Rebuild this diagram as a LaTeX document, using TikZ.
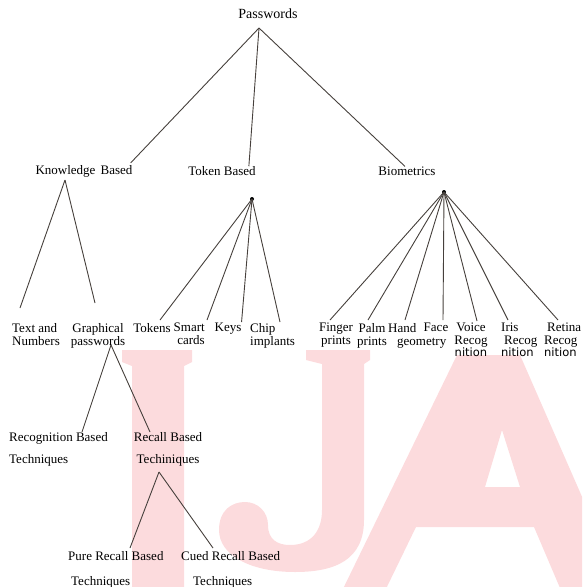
\documentclass[tikz,border=0pt]{standalone}
\usepackage{fontspec}
\setmainfont{Liberation Serif}
\newfontfamily\nitionfont{DejaVu Sans}
\usepackage{tikz}
\definecolor{ijaPink}{RGB}{252,219,221}
\definecolor{branchGray}{RGB}{70,64,60}
\newcommand{\nitionword}{{\nitionfont\fontsize{11.5}{12}\selectfont nition}}

\begin{document}
\begin{tikzpicture}[x=1pt, y=1pt,
    lbl/.style={inner sep=0pt, font=\fontsize{13}{13}\selectfont},
    branch/.style={draw=branchGray, line width=0.9pt},
    hubdot/.style={circle, fill=black, inner sep=0pt, minimum size=4pt}]
  \useasboundingbox (0,0) rectangle (582,-587);
  % watermark letters
  \begin{scope}
    \clip (0,0) rectangle (582,-587);
    \fill[ijaPink] (122,-350) -- (192,-350) -- (192,-362) -- (184,-366) -- (184,-590)
      -- (132,-590) -- (132,-366) -- (122,-362) -- cycle;
    \fill[ijaPink] (306,-350) -- (370,-350) -- (370,-360) -- (364,-364) -- (364,-520)
      .. controls (364,-560) and (335,-572) .. (295,-572)
      .. controls (250,-572) and (219,-555) .. (219,-530)
      .. controls (219,-510) and (232,-502) .. (245,-502)
      .. controls (258,-502) and (268,-512) .. (268,-525)
      .. controls (268,-540) and (278,-545) .. (290,-545)
      .. controls (312,-545) and (322,-530) .. (322,-510)
      -- (322,-364) -- (306,-360) -- cycle;
    \fill[ijaPink, even odd rule] (457,-355) -- (520,-355) -- (625,-595) -- (563,-595)
      -- (534,-527) -- (416,-527) -- (383,-595) -- (340,-595) -- cycle
      (502,-430) -- (520,-487) -- (485,-487) -- cycle;
  \end{scope}

  \node[lbl, font=\fontsize{14}{14}\selectfont] (pw) at (268,-14) {Passwords};
  \coordinate (pwhub) at (259,-28);

  \node[lbl] (kb) at (84,-171) {Knowledge\hspace{2pt} Based};
  \node[lbl] (tb) at (222,-171) {Token Based};
  \node[lbl] (bio) at (407,-171) {Biometrics};
  \coordinate (kbhub) at (65,-180);
  \node[hubdot] (tbhub) at (252,-199) {};
  \node[hubdot] (biohub) at (444,-192) {};

  \node[lbl, anchor=north west, align=left] (tn) at (12,-323) {Text and\\Numbers};
  \node[lbl, anchor=north, align=center] (gp) at (98,-323) {Graphical\\passwords};
  \node[lbl, anchor=north] (tok) at (152,-323) {Tokens};
  \node[lbl, anchor=north east, align=right] (sc) at (205,-323) {Smart\\cards};
  \node[lbl, anchor=north] (keys) at (228,-323) {Keys};
  \node[lbl, anchor=north west, align=left] (chip) at (250,-323) {Chip\\implants};
  \node[lbl, anchor=north, align=center] (fp) at (336,-323) {Finger\\prints};
  \node[lbl, anchor=north, align=center] (pp) at (372,-323) {Palm\\prints};
  \node[lbl, anchor=north west, align=left] (hg) at (388,-323) {Hand\\\hspace*{9pt}geometry};
  \node[lbl, anchor=north] (face) at (436,-323) {Face};
  \node[lbl, anchor=north, align=center] (voice) at (471,-323) {Voice\\Recog\\[-1pt]\nitionword};
  \node[lbl, anchor=north west, align=left] (iris) at (501,-323) {Iris\\\hspace*{3pt}Recog\\[-1pt]\nitionword};
  \node[lbl, anchor=north west, align=left] (retina) at (544,-323) {\hspace*{3pt}Retina\\Recog\\[-1pt]\nitionword};

  \coordinate (gphub) at (111,-345);
  \node[lbl, anchor=north west, align=left] (rb) at (9,-432) {Recognition Based\\[9pt]Techniques};
  \node[lbl, anchor=north, align=center] (rcb) at (168,-432) {Recall Based\\[9pt]Techiniques};
  \coordinate (rcbhub) at (159,-472);
  \node[lbl, anchor=north west, align=left] (prb) at (68,-551) {Pure Recall Based\\[12pt]\hspace*{3pt}Techniques};
  \node[lbl, anchor=north west, align=left] (crb) at (181,-551) {Cued Recall Based\\[12pt]\hspace*{12pt}Techniques};

  % branches
  \draw[branch] (pwhub) -- ([shift={(-2,2)}]kb.north east);
  \draw[branch] (pwhub) -- ([xshift=-7pt]tb.north east);
  \draw[branch] (pwhub) -- ([xshift=-2pt]bio.north);

  \draw[branch] (kbhub) -- ([shift={(8,15)}]tn.north west);
  \draw[branch] (kbhub) -- ([shift={(-3,20)}]gp.north);

  \draw[branch] (tbhub.center) -- ([shift={(8,3)}]tok.north);
  \draw[branch] (tbhub.center) -- ([shift={(2,3)}]sc.north east);
  \draw[branch] (tbhub.center) -- ([shift={(0,1)}]keys.north east);
  \draw[branch] (tbhub.center) -- ([shift={(30,1)}]chip.north west);

  \draw[branch] (biohub.center) -- ([shift={(-6,3)}]fp.north);
  \draw[branch] (biohub.center) -- ([shift={(-4,3)}]pp.north);
  \draw[branch] (biohub.center) -- ([shift={(17,3)}]hg.north west);
  \draw[branch] (biohub.center) -- ([shift={(7,3)}]face.north);
  \draw[branch] (biohub.center) -- ([shift={(6,2)}]voice.north);
  \draw[branch] (biohub.center) -- ([shift={(7,3)}]iris.north west);
  \draw[branch] (biohub.center) -- ([shift={(14,3)}]retina.north west);

  \draw[branch] (gphub) -- ([shift={(73,0)}]rb.north west);
  \draw[branch] (gphub) -- ([xshift=-18pt]rcb.north);

  \draw[branch] (rcbhub) -- ([shift={(62,3)}]prb.north west);
  \draw[branch] (rcbhub) -- ([shift={(32,3)}]crb.north west);
\end{tikzpicture}
\end{document}
